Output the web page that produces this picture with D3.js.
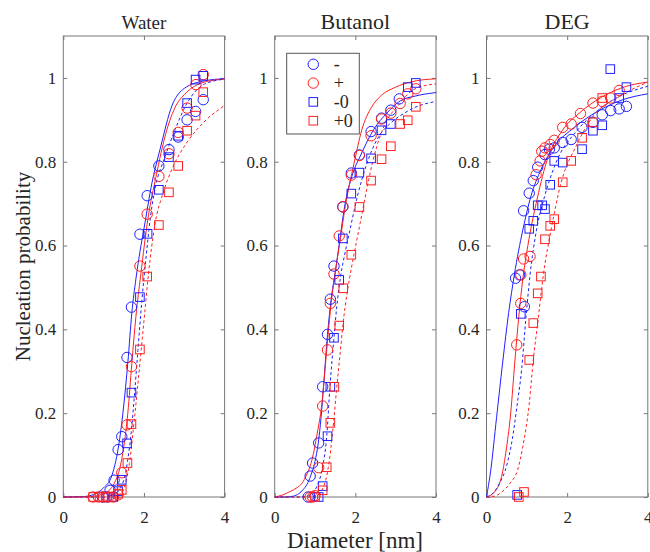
<!DOCTYPE html>
<html>
<head>
<meta charset="utf-8">
<script src="https://cdnjs.cloudflare.com/ajax/libs/d3/7.8.5/d3.min.js"></script>
<style>
  body { margin: 0; background: #fff; }
  svg text { font-family: "Liberation Serif", "Times New Roman", serif !important; fill: #262626; }
  .tick line { stroke: #777; }
</style>
</head>
<body>
<div class="chart"></div>
<script>
// ---- data: [diameter (nm), nucleation probability] ----
var seriesNames = ["-", "+", "-0", "+0"];
var panelTitles = ["Water", "Butanol", "DEG"];
var xTicks = [0, 2, 4];
var yTicks = [0, 0.2, 0.4, 0.6, 0.8, 1];

// Water
var waterMinus = [[0.98,0],[1.08,0],[1.16,0.016],[1.26,0.04],[1.36,0.113],[1.45,0.144],[1.58,0.333],[1.69,0.453],[1.90,0.627],[2.08,0.719],[2.37,0.790],[2.62,0.829],[2.85,0.859],[3.07,0.900],[3.28,0.920],[3.47,0.948]];
var waterPlus = [[0.74,0],[0.87,0],[0.99,0],[1.12,0],[1.24,0],[1.36,0.005],[1.45,0.058],[1.58,0.172],[1.69,0.311],[1.90,0.551],[2.08,0.675],[2.37,0.765],[2.62,0.819],[2.85,0.870],[3.07,0.928],[3.29,0.984],[3.47,1.008]];
var waterMinus0 = [[1.24,0],[1.36,0.014],[1.45,0.041],[1.58,0.128],[1.69,0.249],[1.90,0.477],[2.09,0.628],[2.37,0.733],[2.62,0.811],[2.85,0.862],[3.07,0.940],[3.28,0.996],[3.47,1.005]];
var waterPlus0 = [[0.74,0],[0.9,0],[1.05,0],[1.2,0],[1.36,0.008],[1.45,0.017],[1.59,0.081],[1.69,0.174],[1.90,0.352],[2.08,0.526],[2.37,0.649],[2.62,0.727],[2.85,0.790],[3.07,0.874],[3.28,0.910],[3.47,0.966]];

var waterFitMinus = [[0,0],[0.5,0.001],[0.75,0.006],[1.0,0.022],[1.2,0.05],[1.4,0.14],[1.6,0.32],[1.7,0.44],[1.8,0.52],[1.9,0.585],[2.0,0.64],[2.2,0.75],[2.4,0.83],[2.7,0.935],[3.0,0.975],[3.5,0.993],[4,0.998]];
var waterFitPlus = [[0,0],[0.5,0],[0.83,0.003],[1.0,0.008],[1.16,0.018],[1.3,0.04],[1.4,0.068],[1.5,0.12],[1.6,0.2],[1.7,0.32],[1.8,0.43],[1.92,0.53],[2.1,0.665],[2.3,0.765],[2.55,0.87],[2.8,0.935],[3.0,0.96],[3.5,0.99],[4,0.997]];
var waterFitMinus0 = [[0,0],[1.0,0],[1.25,0.005],[1.5,0.04],[1.6,0.09],[1.68,0.15],[1.77,0.25],[1.85,0.35],[1.95,0.47],[2.05,0.57],[2.15,0.66],[2.27,0.733],[2.52,0.811],[2.77,0.876],[3.07,0.94],[3.5,0.985],[4,0.997]];
var waterFitPlus0 = [[0,0],[1.2,0],[1.45,0.01],[1.55,0.035],[1.64,0.08],[1.75,0.174],[1.84,0.26],[1.93,0.35],[2.02,0.44],[2.11,0.53],[2.27,0.649],[2.48,0.727],[2.73,0.79],[3.06,0.845],[3.47,0.893],[4,0.934]];

// Butanol
var butMinus = [[0.83,0],[0.88,0.05],[0.94,0.081],[1.09,0.129],[1.19,0.263],[1.31,0.388],[1.38,0.472],[1.47,0.551],[1.69,0.692],[1.90,0.773],[2.10,0.816],[2.39,0.872],[2.65,0.904],[2.88,0.923],[3.09,0.950]];
var butPlus = [[0.88,0],[0.94,0],[1.0,0.003],[1.09,0.070],[1.19,0.217],[1.31,0.351],[1.38,0.462],[1.47,0.532],[1.60,0.623],[1.69,0.693],[1.90,0.768],[2.10,0.815],[2.39,0.862],[2.65,0.902],[2.88,0.916],[3.11,0.939],[3.30,0.962],[3.50,0.974]];
var butMinus0 = [[1.09,0],[1.19,0.026],[1.31,0.145],[1.38,0.263],[1.47,0.380],[1.60,0.518],[1.69,0.617],[1.90,0.724],[2.10,0.774],[2.39,0.808],[2.65,0.875],[2.88,0.890],[3.30,0.978],[3.50,0.988]];
var butPlus0 = [[1.0,0],[1.19,0.016],[1.29,0.071],[1.38,0.177],[1.48,0.263],[1.60,0.409],[1.70,0.498],[1.90,0.578],[2.10,0.692],[2.39,0.755],[2.65,0.806],[2.88,0.837],[3.11,0.890],[3.30,0.899],[3.50,0.931]];

var butFitMinus = [[0,0],[0.3,0],[0.46,0.002],[0.6,0.008],[0.71,0.018],[0.8,0.03],[0.89,0.05],[1.0,0.085],[1.08,0.129],[1.15,0.19],[1.21,0.263],[1.31,0.388],[1.4,0.472],[1.5,0.535],[1.61,0.61],[1.72,0.685],[1.94,0.773],[2.12,0.813],[2.45,0.876],[2.78,0.916],[3.11,0.945],[3.5,0.957],[4,0.965]];
var butFitPlus = [[0,0],[0.2,0.005],[0.38,0.013],[0.55,0.022],[0.67,0.032],[0.8,0.055],[0.9,0.08],[1.04,0.144],[1.17,0.223],[1.29,0.351],[1.4,0.462],[1.51,0.542],[1.62,0.61],[1.75,0.693],[1.97,0.797],[2.16,0.876],[2.4,0.93],[2.62,0.956],[3.0,0.978],[3.36,0.99],[4,0.998]];
var butFitMinus0 = [[0,0],[0.6,0],[0.84,0.003],[1.04,0.024],[1.17,0.064],[1.29,0.145],[1.37,0.263],[1.47,0.38],[1.54,0.455],[1.64,0.53],[1.75,0.585],[1.85,0.63],[2.05,0.717],[2.29,0.797],[2.58,0.86],[2.86,0.891],[3.2,0.915],[3.44,0.928],[4,0.944]];
var butFitPlus0 = [[0,0],[0.8,0],[1.04,0.003],[1.21,0.024],[1.33,0.071],[1.46,0.177],[1.54,0.263],[1.62,0.34],[1.69,0.409],[1.8,0.49],[1.9,0.545],[2.02,0.605],[2.2,0.693],[2.33,0.757],[2.53,0.836],[2.74,0.891],[3.07,0.935],[3.44,0.972],[4,0.986]];

// DEG
var degMinus = [[0.72,0.522],[0.82,0.530],[0.94,0.454],[0.92,0.683],[1.06,0.725],[1.16,0.755],[1.27,0.787],[1.45,0.817],[1.56,0.830],[1.68,0.833],[1.89,0.846],[2.10,0.853],[2.37,0.882],[2.64,0.894],[2.87,0.912],[3.08,0.922],[3.29,0.926],[3.47,0.932]];
var degPlus = [[0.75,0.363],[0.85,0.462],[0.85,0.530],[0.92,0.568],[1.08,0.574],[1.23,0.769],[1.33,0.802],[1.37,0.825],[1.45,0.833],[1.58,0.841],[1.68,0.851],[1.89,0.882],[2.10,0.890],[2.33,0.915],[2.64,0.940],[2.87,0.944],[3.08,0.952],[3.29,0.970]];
var degMinus0 = [[0.76,0.005],[0.85,0.437],[1.06,0.640],[1.16,0.659],[1.27,0.696],[1.38,0.696],[1.45,0.687],[1.58,0.745],[1.68,0.802],[1.89,0.798],[2.37,0.830],[2.64,0.874],[2.87,0.887],[3.07,1.021],[3.29,0.952],[3.47,0.978]];
var degPlus0 = [[0.80,0],[0.93,0.012],[1.06,0.327],[1.16,0.415],[1.27,0.486],[1.35,0.526],[1.45,0.615],[1.58,0.647],[1.68,0.663],[1.89,0.751],[2.10,0.802],[2.37,0.857],[2.64,0.894],[2.87,0.952]];

var degFitMinus = [[0,0],[0.1,0.06],[0.25,0.19],[0.4,0.32],[0.55,0.44],[0.69,0.53],[0.9,0.637],[1.1,0.717],[1.35,0.781],[1.68,0.837],[2.1,0.876],[2.68,0.916],[3.38,0.948],[4,0.962]];
var degFitPlus = [[0,0],[0.2,0.012],[0.4,0.06],[0.5,0.12],[0.6,0.2],[0.7,0.32],[0.8,0.43],[0.9,0.52],[1.0,0.585],[1.1,0.64],[1.23,0.7],[1.48,0.797],[1.89,0.876],[2.3,0.916],[2.89,0.956],[3.47,0.98],[4,0.99]];
var degFitMinus0 = [[0,0],[0.15,0.008],[0.32,0.032],[0.5,0.075],[0.65,0.144],[0.76,0.22],[0.87,0.303],[0.98,0.43],[1.08,0.53],[1.24,0.637],[1.44,0.717],[1.72,0.797],[2.26,0.876],[2.68,0.916],[3.3,0.956],[4,0.98]];
var degFitPlus0 = [[0,0],[0.2,0.002],[0.44,0.017],[0.6,0.035],[0.77,0.064],[0.9,0.12],[1.06,0.223],[1.16,0.327],[1.27,0.415],[1.41,0.53],[1.6,0.637],[1.85,0.75],[2.22,0.837],[2.64,0.908],[3.3,0.956],[4,0.99]];

var panels = [
  { points: [waterMinus, waterPlus, waterMinus0, waterPlus0], fits: [waterFitMinus, waterFitPlus, waterFitMinus0, waterFitPlus0] },
  { points: [butMinus, butPlus, butMinus0, butPlus0], fits: [butFitMinus, butFitPlus, butFitMinus0, butFitPlus0] },
  { points: [degMinus, degPlus, degMinus0, degPlus0], fits: [degFitMinus, degFitPlus, degFitMinus0, degFitPlus0] }
];

// ---- styling ----
var serif = "'Liberation Serif', 'Times New Roman', serif";
var blue = "#1f1fff";
var red = "#ff1f1f";
var colors = [blue, red, blue, red];
var shapes = ["circle", "circle", "square", "square"];
var dashes = [null, null, "3,2.5", "3,2.5"];

var svgWidth = 650, svgHeight = 552;
var panelLeft = [63.3, 274.7, 486.5];
var panelTop = 36;
var width = 161.3, height = 461;

var svg = d3.select(".chart").append("svg")
  .attr("width", svgWidth)
  .attr("height", svgHeight)
  .style("font-family", serif);

var xScale = d3.scaleLinear().domain([0, 4]).range([0, width]);
var yScale = d3.scaleLinear().domain([0, 1.1]).range([height, 0]);

var line = d3.line()
  .x(function(d) { return xScale(d[0]); })
  .y(function(d) { return yScale(d[1]); })
  .curve(d3.curveMonotoneX);

function drawMarker(g, shape, color, d) {
  if (shape === "circle") {
    g.append("circle")
      .attr("cx", xScale(d[0])).attr("cy", yScale(d[1])).attr("r", 5.2)
      .attr("fill", "none").attr("stroke", color).attr("stroke-width", 1);
  } else {
    g.append("rect")
      .attr("x", xScale(d[0]) - 4.3).attr("y", yScale(d[1]) - 4.3)
      .attr("width", 8.6).attr("height", 8.6)
      .attr("fill", "none").attr("stroke", color).attr("stroke-width", 1);
  }
}

panels.forEach(function(panel, i) {
  var chart = svg.append("g")
    .attr("transform", "translate(" + panelLeft[i] + "," + panelTop + ")");

  // axes with inward ticks on all four sides
  chart.append("g").attr("transform", "translate(0," + height + ")")
    .call(d3.axisBottom(xScale).tickValues(xTicks).tickSize(-4).tickPadding(14).tickFormat(d3.format("d")));
  chart.append("g")
    .call(d3.axisTop(xScale).tickValues(xTicks).tickSize(-4).tickFormat(""));
  chart.append("g")
    .call(d3.axisLeft(yScale).tickValues(yTicks).tickSize(-4).tickPadding(7).tickFormat(d3.format("~g")));
  chart.append("g").attr("transform", "translate(" + width + ",0)")
    .call(d3.axisRight(yScale).tickValues(yTicks).tickSize(-4).tickFormat(""));

  chart.selectAll(".domain").remove();
  chart.selectAll("g").attr("font-family", null);
  chart.selectAll(".tick text")
    .style("font-family", serif)
    .style("font-size", "17px")
    .style("fill", "#262626");

  chart.append("rect")
    .attr("width", width).attr("height", height)
    .attr("fill", "none").attr("stroke", "#777").attr("stroke-width", 1);

  // fitted curves
  panel.fits.forEach(function(fit, k) {
    chart.append("path")
      .datum(fit)
      .attr("d", line)
      .attr("fill", "none")
      .attr("stroke", colors[k])
      .attr("stroke-width", 1)
      .attr("stroke-dasharray", dashes[k]);
  });

  // measured points
  panel.points.forEach(function(pts, k) {
    var g = chart.append("g");
    pts.forEach(function(d) { drawMarker(g, shapes[k], colors[k], d); });
  });

  // title
  svg.append("text")
    .attr("x", panelLeft[i] + width / 2)
    .attr("y", 29)
    .attr("text-anchor", "middle")
    .style("font-size", i === 0 ? "19px" : "22px")
    .text(panelTitles[i]);
});

// legend in the Butanol panel
var legend = svg.append("g")
  .attr("transform", "translate(" + (panelLeft[1] + 12) + "," + (panelTop + 17.3) + ")");
legend.append("rect")
  .attr("width", 72.6).attr("height", 80.7)
  .attr("fill", "#fff").attr("stroke", "#555").attr("stroke-width", 1);
seriesNames.forEach(function(name, k) {
  var cy = 11 + k * 18.8;
  if (shapes[k] === "circle") {
    legend.append("circle").attr("cx", 26.6).attr("cy", cy).attr("r", 5.2)
      .attr("fill", "none").attr("stroke", colors[k]);
  } else {
    legend.append("rect").attr("x", 22.3).attr("y", cy - 4.3).attr("width", 8.6).attr("height", 8.6)
      .attr("fill", "none").attr("stroke", colors[k]);
  }
  legend.append("text")
    .attr("x", 47).attr("y", cy + 6)
    .style("font-size", "18px")
    .text(name);
});

// axis labels
svg.append("text")
  .attr("x", 355).attr("y", 548)
  .attr("text-anchor", "middle")
  .style("font-size", "23px")
  .text("Diameter [nm]");
svg.append("text")
  .attr("transform", "translate(30," + (panelTop + height / 2) + ") rotate(-90)")
  .attr("text-anchor", "middle")
  .style("font-size", "21px")
  .text("Nucleation probability");
</script>
</body>
</html>
